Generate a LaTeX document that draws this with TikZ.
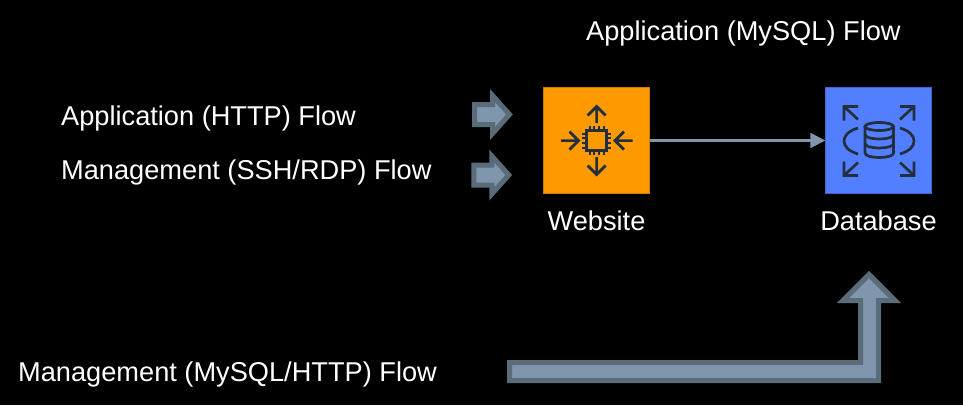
\documentclass[tikz,border=0pt]{standalone}
\usepackage{fontspec}
\setmainfont{Liberation Sans}
\usetikzlibrary{positioning,arrows.meta}
\definecolor{flowfill}{HTML}{7F96AD}
\definecolor{flowedge}{HTML}{5A6B7A}
\definecolor{iconline}{HTML}{232F3E}
\definecolor{websitefill}{HTML}{FF9900}
\definecolor{databasefill}{HTML}{527FFF}
\tikzset{
  flowlabel/.style={text=white,font=\fontsize{27.2}{30}\selectfont,inner sep=0pt},
  tierbox/.style={minimum size=106.5pt,inner sep=0pt,outer sep=0pt,line width=0.6pt},
  flowarrow/.style={fill=flowfill,draw=flowedge,line width=5pt,miter limit=10},
  iconstroke/.style={draw=iconline,line width=2.7pt}
}
\begin{document}
\begin{tikzpicture}[x=1pt,y=-1pt]
          \fill[black] (0,0) rectangle (963,405);
          \useasboundingbox (0,0) rectangle (963,405);
          % labels
          \node[flowlabel,anchor=base west] (httpflow) at (61,125) {Application (HTTP) Flow};
          \node[flowlabel,anchor=base west] (sshflow) at (61,179) {Management (SSH/RDP) Flow};
          \node[flowlabel,anchor=base west] (mysqlflow) at (586,40) {Application (MySQL) Flow};
          \node[flowlabel,anchor=base west] (mgmtflow) at (18,381) {Management (MySQL/HTTP) Flow};
          % tiers
          \node[tierbox,fill=websitefill,draw=websitefill!80!black] (website) at (596.5,140.5) {};
          \node[tierbox,fill=databasefill,draw=databasefill!80!black] (database) at (878.5,140.5) {};
          \node[flowlabel,below=16.5pt of website] (websitelabel) {Website};
          \node[flowlabel,below=16.5pt of database] (databaselabel) {Database};
          \draw[flowfill,line width=2.2pt,-{Stealth[length=15pt,width=15pt,inset=0pt]}] (website) -- (database);
          % block arrows
          \foreach \yc/\xs in {114.5/0,175/-0.7}{
            \draw[flowarrow] (474.5+\xs,\yc-10) -- (492.5+\xs,\yc-10) -- (492.5+\xs,\yc-19)
              -- (509.5+\xs,\yc) -- (492.5+\xs,\yc+19) -- (492.5+\xs,\yc+10) -- (474.5+\xs,\yc+10) -- cycle;}
          \draw[flowarrow] (509.5,362.5) -- (860.5,362.5) -- (860.5,300.5) -- (843,300.5)
            -- (869,274.5) -- (895,300.5) -- (878.5,300.5) -- (878.5,380.5) -- (509.5,380.5) -- cycle;
          % website icon
          \draw[iconstroke] (586.2,130.2) rectangle (606.8,150.8);
          \foreach \i in {-7,-2.4,2.4,7}{
            \draw[iconstroke,line width=2pt] (596.5+\i,130.2) -- (596.5+\i,126);
            \draw[iconstroke,line width=2pt] (596.5+\i,150.8) -- (596.5+\i,155);
            \draw[iconstroke,line width=2pt] (586.2,140.5+\i) -- (582,140.5+\i);
            \draw[iconstroke,line width=2pt] (606.8,140.5+\i) -- (611,140.5+\i);}
          \draw[iconstroke] (596.6,123) -- (596.6,106.5) (587.6,115.5) -- (596.6,106.5) -- (605.6,115.5);
          \draw[iconstroke] (596.6,157) -- (596.6,174.5) (587.6,165.5) -- (596.6,174.5) -- (605.6,165.5);
          \draw[iconstroke] (561,140.6) -- (578.5,140.6) (569.5,131.6) -- (578.5,140.6) -- (569.5,149.6);
          \draw[iconstroke] (632.5,140.6) -- (615,140.6) (624,131.6) -- (615,140.6) -- (624,149.6);
          % database icon
          \draw[iconstroke] (865,126.5) -- (865,153) .. controls (865,159) and (893.5,159) .. (893.5,153)
            -- (893.5,126.5);
          \draw[iconstroke] (879.2,126.5) ellipse[x radius=14.3,y radius=4];
          \foreach \i in {134.5,143.5}{
            \draw[iconstroke] (865,\i) .. controls (865,\i+6) and (893.5,\i+6) .. (893.5,\i);}
          \draw[iconstroke] (858,128) .. controls (848,131) and (844,136) .. (844,141) .. controls (844,146) and (848,151) .. (858,154);
          \draw[iconstroke] (900,128) .. controls (910,131) and (914,136) .. (914,141) .. controls (914,146) and (910,151) .. (900,154);
          \foreach \sx/\cx in {1/844,-1/914}{
            \draw[iconstroke] (\cx+14*\sx,106.5) -- (\cx,106.5) -- (\cx,120.5) (\cx,106.5) -- (\cx+14*\sx,119.5);
            \draw[iconstroke] (\cx+14*\sx,175.5) -- (\cx,175.5) -- (\cx,161.5) (\cx,175.5) -- (\cx+14*\sx,162.5);}
        \end{tikzpicture}
\end{document}
